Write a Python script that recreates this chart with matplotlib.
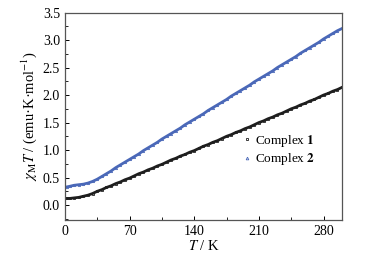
import matplotlib
matplotlib.use("Agg")
import matplotlib.pyplot as plt
from matplotlib.ticker import MultipleLocator

# DATA
temp = [2, 5, 10, 15, 20, 25, 30, 35, 40, 45, 50, 55, 60, 65, 70, 75, 80, 85,
        90, 95, 100, 105, 110, 115, 120, 125, 130, 135, 140, 145, 150, 155,
        160, 165, 170, 175, 180, 185, 190, 195, 200, 205, 210, 215, 220, 225,
        230, 235, 240, 245, 250, 255, 260, 265, 270, 275, 280, 285, 290, 295,
        300]

complex1 = [0.12, 0.12, 0.13, 0.14, 0.16, 0.18, 0.21, 0.25, 0.28, 0.32, 0.35,
            0.39, 0.42, 0.46, 0.49, 0.53, 0.57, 0.60, 0.64, 0.67, 0.71, 0.74,
            0.78, 0.82, 0.85, 0.89, 0.92, 0.96, 0.99, 1.03, 1.07, 1.10, 1.14,
            1.17, 1.21, 1.25, 1.28, 1.32, 1.35, 1.39, 1.42, 1.46, 1.50, 1.53,
            1.57, 1.60, 1.64, 1.67, 1.71, 1.75, 1.78, 1.82, 1.85, 1.89, 1.92,
            1.96, 2.00, 2.03, 2.07, 2.10, 2.14]

complex2 = [0.33, 0.34, 0.36, 0.37, 0.38, 0.40, 0.43, 0.47, 0.52, 0.57, 0.62,
            0.68, 0.73, 0.78, 0.83, 0.88, 0.93, 0.99, 1.04, 1.09, 1.14, 1.20,
            1.25, 1.30, 1.35, 1.40, 1.46, 1.51, 1.56, 1.61, 1.66, 1.72, 1.77,
            1.82, 1.87, 1.92, 1.98, 2.03, 2.08, 2.13, 2.18, 2.24, 2.29, 2.34,
            2.39, 2.44, 2.50, 2.55, 2.60, 2.65, 2.70, 2.76, 2.81, 2.86, 2.91,
            2.96, 3.02, 3.07, 3.12, 3.17, 3.21]

labels = ["Complex $\\mathbf{1}$", "Complex $\\mathbf{2}$"]

# STYLE
plt.rcParams["font.family"] = ["Liberation Serif", "DejaVu Serif"]
plt.rcParams["mathtext.fontset"] = "stix"
plt.rcParams["font.size"] = 10

fig = plt.figure(figsize=(3.73, 2.56), dpi=100)
ax = fig.add_axes([0.174, 0.141, 0.743, 0.810])

ax.plot(temp, complex1, color="#1e1e1e", lw=2.0, marker="s", ms=1.6,
        mfc="none", mew=0.6, label=labels[0])
ax.plot(temp, complex2, color="#4a68b8", lw=2.0, marker="^", ms=1.6,
        mfc="none", mew=0.6, label=labels[1])

ax.set_xlim(0, 300)
ax.set_ylim(-0.27, 3.5)
ax.xaxis.set_major_locator(MultipleLocator(70))
ax.xaxis.set_minor_locator(MultipleLocator(35))
ax.yaxis.set_major_locator(MultipleLocator(0.5))
ax.yaxis.set_minor_locator(MultipleLocator(0.25))
ax.tick_params(which="both", direction="in", top=False, right=False)
ax.tick_params(which="major", length=3, width=0.7, labelsize=10)
ax.tick_params(which="minor", length=2, width=0.6)
ax.yaxis.set_major_formatter(matplotlib.ticker.FormatStrFormatter("%.1f"))

for sp in ax.spines.values():
    sp.set_color("#555555")
    sp.set_linewidth(0.9)

ax.set_xlabel("$T$ / K", labelpad=1, fontsize=10.5)
ax.set_ylabel("$\\chi_{\\rm M}T$ / (emu·K·mol$^{-1}$)", labelpad=3,
              fontsize=10.5)

leg = ax.legend(loc="center left", bbox_to_anchor=(0.6, 0.337),
                frameon=False, handlelength=0.6, handletextpad=0.3,
                labelspacing=0.2, markerscale=1.2, fontsize=9.5)
for h in leg.legend_handles:
    h.set_linestyle("none")

fig.savefig("out.png", dpi=100)
